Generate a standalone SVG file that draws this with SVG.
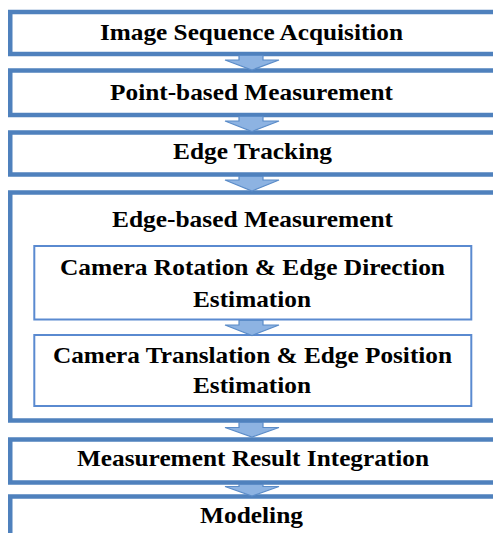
<svg xmlns="http://www.w3.org/2000/svg" width="493" height="533" viewBox="0 0 493 533">
<style>
.box{fill:#fff;stroke:#4f81bd;stroke-width:4.5}
.inner{fill:#fff;stroke:#5a8ad0;stroke-width:2}
.arrow{fill:#8db3e2;stroke:#5b8cc8;stroke-width:1.2;stroke-linejoin:miter}
text{font-family:"Liberation Serif","Times New Roman",serif;font-weight:bold;font-size:23px;fill:#000;text-anchor:middle}
</style>
<rect width="493" height="533" fill="#fff"/>
<g id="n1"><rect class="box" x="10.25" y="12" width="490" height="42"/><text x="251.5" y="40" textLength="303" lengthAdjust="spacingAndGlyphs">Image Sequence Acquisition</text></g>
<g id="n2"><rect class="box" x="10.25" y="70.5" width="490" height="44.5"/><text x="251.5" y="99.5" textLength="283" lengthAdjust="spacingAndGlyphs">Point-based Measurement</text></g>
<g id="n3"><rect class="box" x="10.25" y="132.5" width="490" height="42"/><text x="252.5" y="159.3" textLength="159" lengthAdjust="spacingAndGlyphs">Edge Tracking</text></g>
<g id="n4"><rect class="box" x="10.25" y="192.5" width="490" height="228"/><text x="252.5" y="227.3" textLength="281" lengthAdjust="spacingAndGlyphs">Edge-based Measurement</text></g>
<g id="n4a"><rect class="inner" x="34.3" y="246" width="437" height="73.5"/><text x="252.5" y="275" textLength="385" lengthAdjust="spacingAndGlyphs">Camera Rotation &amp; Edge Direction</text><text x="252" y="306.7" textLength="118" lengthAdjust="spacingAndGlyphs">Estimation</text></g>
<g id="n4b"><rect class="inner" x="34.3" y="335" width="437" height="71"/><text x="252.5" y="362.7" textLength="399" lengthAdjust="spacingAndGlyphs">Camera Translation &amp; Edge Position</text><text x="252" y="393.3" textLength="118" lengthAdjust="spacingAndGlyphs">Estimation</text></g>
<g id="n5"><rect class="box" x="10.25" y="439.5" width="490" height="43"/><text x="253" y="466" textLength="352" lengthAdjust="spacingAndGlyphs">Measurement Result Integration</text></g>
<g id="n6"><rect class="box" x="10.25" y="496.5" width="490" height="60"/><text x="251.5" y="523" textLength="103" lengthAdjust="spacingAndGlyphs">Modeling</text></g>
<g id="connectors">
<polygon class="arrow" points="239,55.5 263,55.5 263,60 279,60 252,70 225,60 239,60"/>
<polygon class="arrow" points="239,116.5 263,116.5 263,121 279,121 252,131.5 225,121 239,121"/>
<polygon class="arrow" points="239,176.5 263,176.5 263,180 279,180 252,191 225,180 239,180"/>
<polygon class="arrow" points="239,320.5 263,320.5 263,325 279,325 252,335.5 225,325 239,325"/>
<polygon class="arrow" points="239,422.5 263,422.5 263,427.5 279,427.5 252,437 225,427.5 239,427.5"/>
<polygon class="arrow" points="239,484.5 263,484.5 263,486.5 279,486.5 252,496 225,486.5 239,486.5"/>
</g>
</svg>
